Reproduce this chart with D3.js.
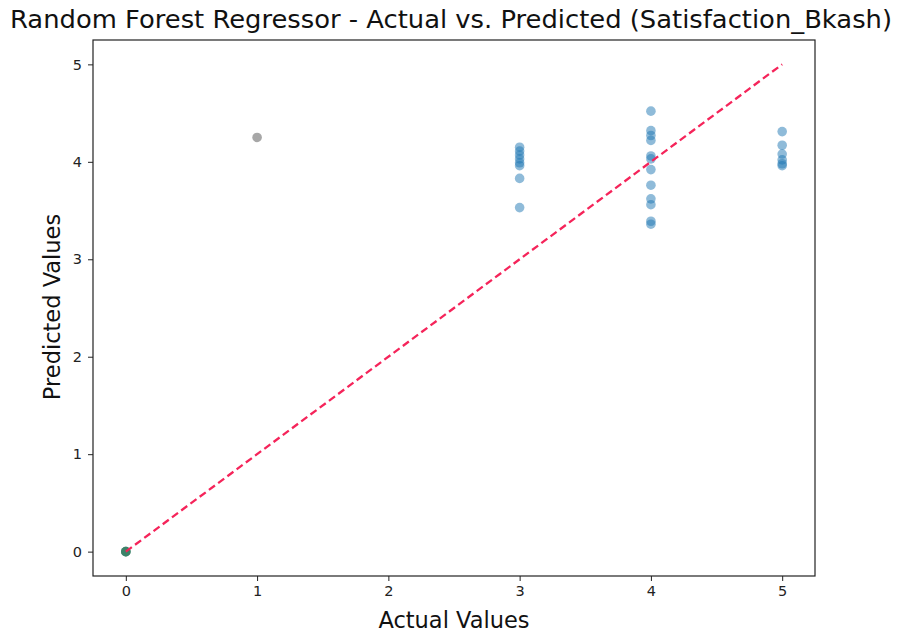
<!DOCTYPE html>
<html><head><meta charset="utf-8">
<script src="https://cdn.jsdelivr.net/npm/d3@7"></script>
<style>body{margin:0;background:#fff}svg{display:block}text{font-family:"DejaVu Sans",sans-serif}</style>
</head><body><svg id="c" width="897" height="635"></svg>
<script>
const actual = [0,0,0,0,1,3,3,3,3,3,3,3,3,4,4,4,4,4,4,4,4,4,4,4,4,5,5,5,5,5,5];
const predicted = [0,0,0,0,4.25,4.15,4.11,4.07,4.03,3.99,3.96,3.83,3.53,4.52,4.32,4.27,4.22,4.06,4.03,3.92,3.76,3.62,3.56,3.39,3.36,4.31,4.17,4.08,4.02,3.98,3.96];
const xTicks = [0,1,2,3,4,5];
const yTicks = [0,1,2,3,4,5];
const ideal = [0,5];

const svg = d3.select("#c");
const L=93, R=815, T=40, B=576;
const x = d3.scaleLinear().domain([-0.25,5.25]).range([L,R]);
const y = d3.scaleLinear().domain([-0.25,5.25]).range([B,T]);
const colorFor = a => a===0 ? "#2f7a5f" : a===1 ? "#8a8a8a" : "#1f77b4";

const pts = actual.map((a,i)=>({a, p:predicted[i]}));
svg.append("g").selectAll("circle").data(pts).join("circle")
  .attr("cx",d=>x(d.a)).attr("cy",d=>y(d.p)).attr("r",4.8)
  .attr("fill",d=>colorFor(d.a)).attr("fill-opacity",d=>d.a===1?0.75:0.5);

svg.append("line").attr("x1",x(ideal[0])).attr("y1",y(ideal[0])).attr("x2",x(ideal[1])).attr("y2",y(ideal[1]))
  .attr("stroke","#f5245a").attr("stroke-width",2.3).attr("stroke-dasharray","7.5,4");

const xa = svg.append("g").attr("transform",`translate(0,${B})`).call(d3.axisBottom(x).tickValues(xTicks).tickSize(5).tickPadding(5).tickFormat(d3.format("d")));
const ya = svg.append("g").attr("transform",`translate(${L},0)`).call(d3.axisLeft(y).tickValues(yTicks).tickSize(5).tickPadding(6).tickFormat(d3.format("d")));
[xa,ya].forEach(g=>{g.select(".domain").remove();g.selectAll("text").attr("font-size",14.5).attr("fill","#222").attr("font-family","DejaVu Sans");g.selectAll("line").attr("stroke","#222");});

svg.append("rect").attr("x",L).attr("y",T).attr("width",R-L).attr("height",B-T).attr("fill","none").attr("stroke","#222").attr("stroke-width",1.2);

svg.append("text").attr("x",451).attr("y",28).attr("text-anchor","middle").attr("font-size",25.5).attr("fill","#111")
  .attr("textLength",882).attr("lengthAdjust","spacingAndGlyphs")
  .text("Random Forest Regressor - Actual vs. Predicted (Satisfaction_Bkash)");
svg.append("text").attr("x",(L+R)/2).attr("y",628).attr("text-anchor","middle").attr("font-size",22.5).attr("fill","#111").text("Actual Values");
svg.append("text").attr("transform",`translate(60,${(T+B)/2 - 1}) rotate(-90)`).attr("text-anchor","middle").attr("font-size",22.5).attr("fill","#111").text("Predicted Values");
</script></body></html>
